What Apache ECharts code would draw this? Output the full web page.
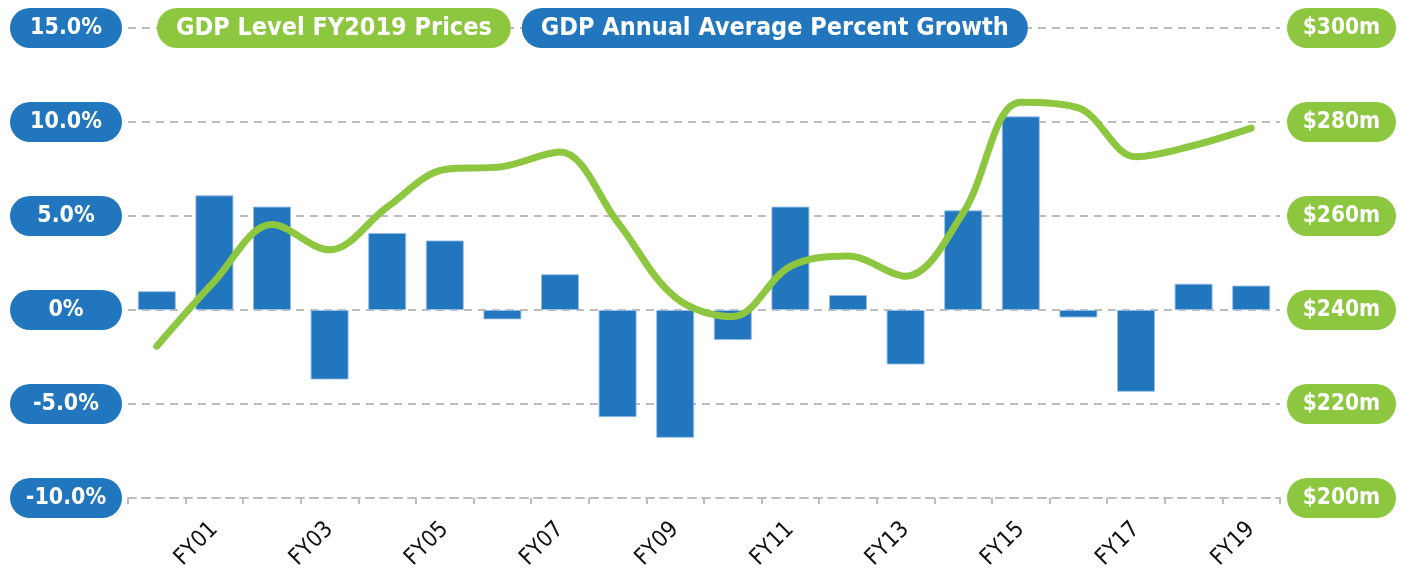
<!DOCTYPE html>
<html>
<head>
<meta charset="utf-8">
<script src="https://cdn.jsdelivr.net/npm/echarts@6/dist/echarts.min.js"></script>
<style>
html,body{margin:0;padding:0;background:#fff;}
#chart{width:1403px;height:569px;}
</style>
</head>
<body>
<div id="chart"></div>
<script>
const categories = ['FY00','FY01','FY02','FY03','FY04','FY05','FY06','FY07','FY08','FY09','FY10','FY11','FY12','FY13','FY14','FY15','FY16','FY17','FY18','FY19'];
const growthPct = [1.0, 6.1, 5.5, -3.7, 4.1, 3.7, -0.5, 1.9, -5.7, -6.8, -1.6, 5.5, 0.8, -2.9, 5.3, 10.3, -0.4, -4.35, 1.4, 1.3];
const gdpLevel = [232.3, 246.1, 258.2, 252.8, 261.9, 269.9, 270.5, 273.6, 258.7, 242.7, 238.6, 249.3, 251.5, 247.2, 260.7, 284.2, 283.0, 272.6, 275.0, 278.7];
const leftTicks = {min: -10, max: 15, interval: 5};
const rightTicks = {min: 200, max: 300, interval: 20};
const lineName = 'GDP Level FY2019 Prices';
const barName = 'GDP Annual Average Percent Growth';

const BLUE = '#2176bd';
const GREEN = '#8dc63f';
const GRID = '#bdbdbd';
const FONT = "'DejaVu Sans Condensed','Liberation Sans Narrow','Roboto Condensed',Roboto,sans-serif";

const chart = echarts.init(document.getElementById('chart'), null, {renderer: 'canvas'});
chart.setOption({
  animation: false,
  textStyle: {fontFamily: FONT},
  grid: {left: 128, right: 123, top: 28, bottom: 71, containLabel: false, outerBoundsMode: 'none'},
  legend: {
    left: 147, top: 3, itemWidth: 0, itemHeight: 0, itemGap: 6,
    selectedMode: false,
    data: [
      {name: lineName, icon: 'none', textStyle: {color: '#fff', fontSize: 25, fontWeight: 'bold', fontFamily: FONT,
        backgroundColor: GREEN, borderRadius: 20, padding: [8, 19, 7, 19]}},
      {name: barName, icon: 'none', textStyle: {color: '#fff', fontSize: 25, fontWeight: 'bold', fontFamily: FONT,
        backgroundColor: BLUE, borderRadius: 20, padding: [8, 19, 7, 19]}}
    ]
  },
  xAxis: {
    type: 'category',
    data: categories,
    boundaryGap: true,
    axisLine: {onZero: false, lineStyle: {color: GRID, width: 2, type: [8, 6]}},
    axisTick: {show: true, interval: 0, length: 6, lineStyle: {color: GRID, width: 2}},
    axisLabel: {
      interval: (i) => i % 2 === 1,
      rotate: 45, margin: 28,
      color: '#111', fontSize: 23, fontFamily: FONT
    },
    splitLine: {show: false}
  },
  yAxis: [
    {
      type: 'value', min: leftTicks.min, max: leftTicks.max, interval: leftTicks.interval,
      position: 'left',
      axisLine: {show: false}, axisTick: {show: false},
      splitLine: {show: true, lineStyle: {color: GRID, width: 2, type: [8, 6]}},
      axisLabel: {
        margin: 6,
        formatter: (v) => '{p|' + (v === 0 ? '0%' : v.toFixed(1) + '%') + '}',
        rich: {p: {color: '#fff', fontSize: 23, fontWeight: 'bold', fontFamily: FONT,
          backgroundColor: BLUE, borderRadius: 20, width: 112, height: 40, align: 'center', lineHeight: 40}}
      }
    },
    {
      type: 'value', min: rightTicks.min, max: rightTicks.max, interval: rightTicks.interval,
      position: 'right',
      axisLine: {show: false}, axisTick: {show: false},
      splitLine: {show: false},
      axisLabel: {
        margin: 7,
        formatter: (v) => '{p|$' + v + 'm}',
        rich: {p: {color: '#fff', fontSize: 22.5, fontWeight: 'bold', fontFamily: FONT,
          backgroundColor: GREEN, borderRadius: 20, width: 109, height: 40, align: 'center', lineHeight: 40}}
      }
    }
  ],
  series: [
    {
      name: barName, type: 'bar', yAxisIndex: 0, data: growthPct,
      barWidth: '66%',
      itemStyle: {color: BLUE, borderColor: 'rgba(150,190,230,0.9)', borderWidth: 1},
      z: 2
    },
    {
      name: lineName, type: 'line', yAxisIndex: 1, data: gdpLevel,
      smooth: 0.35, showSymbol: false, symbol: 'none',
      lineStyle: {color: GREEN, width: 7, cap: 'round', join: 'round'},
      itemStyle: {color: GREEN},
      z: 5
    }
  ]
});
</script>
</body>
</html>
